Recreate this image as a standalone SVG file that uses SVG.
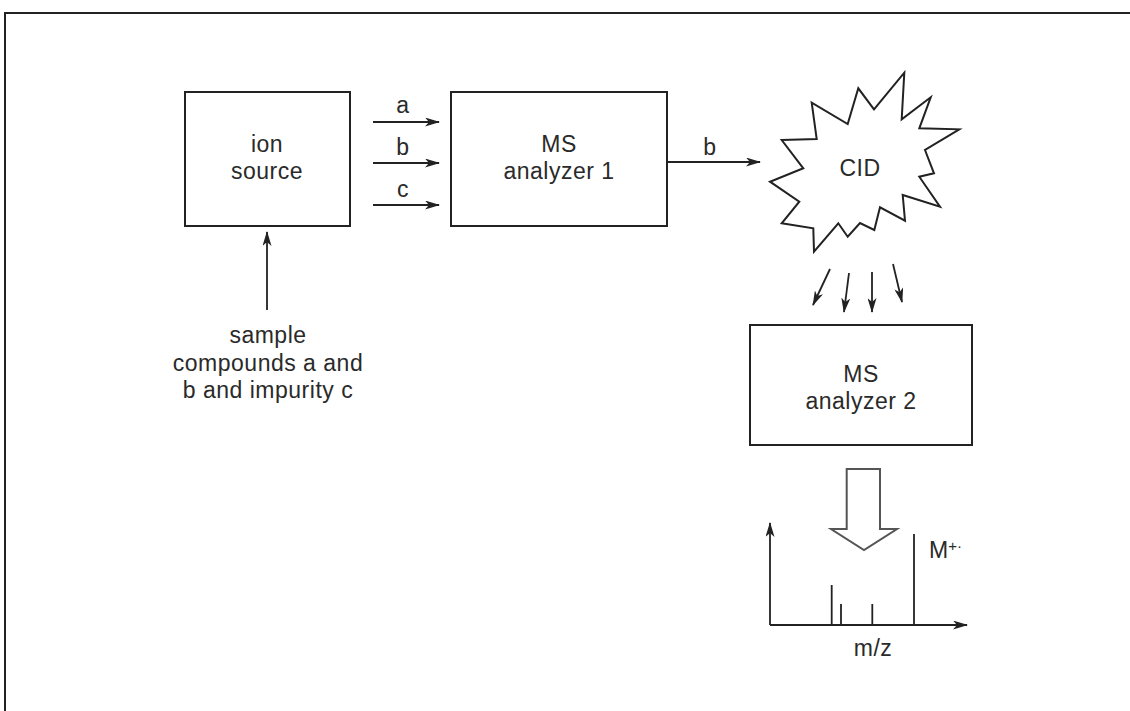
<svg xmlns="http://www.w3.org/2000/svg" width="1130" height="711" viewBox="0 0 1130 711">
<defs>
<style>
.box{fill:#fff;stroke:#222;stroke-width:2}
.ln{fill:none;stroke:#222;stroke-width:1.8}
.t{font-family:"Liberation Sans",Arial,sans-serif;font-size:23px;fill:#2a2a2a;letter-spacing:0.5px;text-anchor:middle}
</style>
<marker id="ah" markerWidth="15" markerHeight="9" refX="14" refY="4.5" orient="auto" markerUnits="userSpaceOnUse">
<path d="M0,0 L15,4.5 L0,9 L4,4.5 Z" fill="#222"/>
</marker>
</defs>
<rect width="1130" height="711" fill="#fff"/>
<rect x="5" y="13" width="1140" height="720" fill="none" stroke="#222" stroke-width="2"/>

<g id="ion-source">
<rect class="box" x="185" y="92" width="165" height="134"/>
<text class="t" x="267" y="152">ion</text>
<text class="t" x="267" y="179">source</text>
</g>

<g id="ms-analyzer-1">
<rect class="box" x="451" y="92" width="216" height="134"/>
<text class="t" x="559" y="152">MS</text>
<text class="t" x="559" y="179">analyzer 1</text>
</g>

<g id="cid">
<polygon class="box" points="781.7,140 816.7,139 811.7,102.7 847.7,124 858.3,88.3 874,109.3 904.3,72.7 901.7,119.3 930.7,97.3 919.3,128.3 959.3,129.3 925,150 934,173.3 919.3,176.7 940,206.7 902.7,195 905,220.7 880,207.3 874.3,230 860,223 847.7,236.7 838.3,223.3 814,251.7 813.3,228.3 781.7,223.3 799.3,201.7 770,181.7 803.3,168.3"/>
<text class="t" x="860" y="176" style="letter-spacing:0.5px">CID</text>
</g>

<g id="ms-analyzer-2">
<rect class="box" x="750" y="325" width="222" height="120"/>
<text class="t" x="861" y="382">MS</text>
<text class="t" x="861" y="409">analyzer 2</text>
</g>

<g id="sample">
<text class="t" x="268" y="343">sample</text>
<text class="t" x="268" y="371">compounds a and</text>
<text class="t" x="268" y="398">b and impurity c</text>
</g>

<g id="spectrum">
<polygon points="846.7,469 880,469 880,529 897,529 864,550 831,529 846.7,529" fill="#fff" stroke="#555" stroke-width="2"/>
<line class="ln" x1="770" y1="625" x2="770" y2="523" marker-end="url(#ah)"/>
<line class="ln" x1="770" y1="625" x2="967" y2="625" marker-end="url(#ah)"/>
<line class="ln" x1="831.7" y1="625" x2="831.7" y2="585"/>
<line class="ln" x1="841" y1="625" x2="841" y2="604"/>
<line class="ln" x1="872.3" y1="625" x2="872.3" y2="604"/>
<line class="ln" x1="914" y1="625" x2="914" y2="534"/>
<text class="t" x="929" y="558" style="text-anchor:start;letter-spacing:0">M<tspan dy="-7" style="font-size:15px">+·</tspan></text>
<text class="t" x="873" y="656">m/z</text>
</g>

<g id="connectors">
<line class="ln" x1="267" y1="310" x2="267" y2="232" marker-end="url(#ah)"/>
<line class="ln" x1="373" y1="122" x2="439" y2="122" marker-end="url(#ah)"/>
<line class="ln" x1="373" y1="163" x2="439" y2="163" marker-end="url(#ah)"/>
<line class="ln" x1="373" y1="205" x2="439" y2="205" marker-end="url(#ah)"/>
<text class="t" x="403" y="113">a</text>
<text class="t" x="403" y="155">b</text>
<text class="t" x="403" y="197">c</text>
<line class="ln" x1="667" y1="162" x2="760" y2="162" marker-end="url(#ah)"/>
<text class="t" x="710" y="155">b</text>
<line class="ln" x1="830" y1="269" x2="813" y2="305" marker-end="url(#ah)"/>
<line class="ln" x1="849" y1="273" x2="844" y2="312" marker-end="url(#ah)"/>
<line class="ln" x1="872" y1="272" x2="872" y2="312" marker-end="url(#ah)"/>
<line class="ln" x1="893" y1="264" x2="902" y2="302" marker-end="url(#ah)"/>
</g>
</svg>
